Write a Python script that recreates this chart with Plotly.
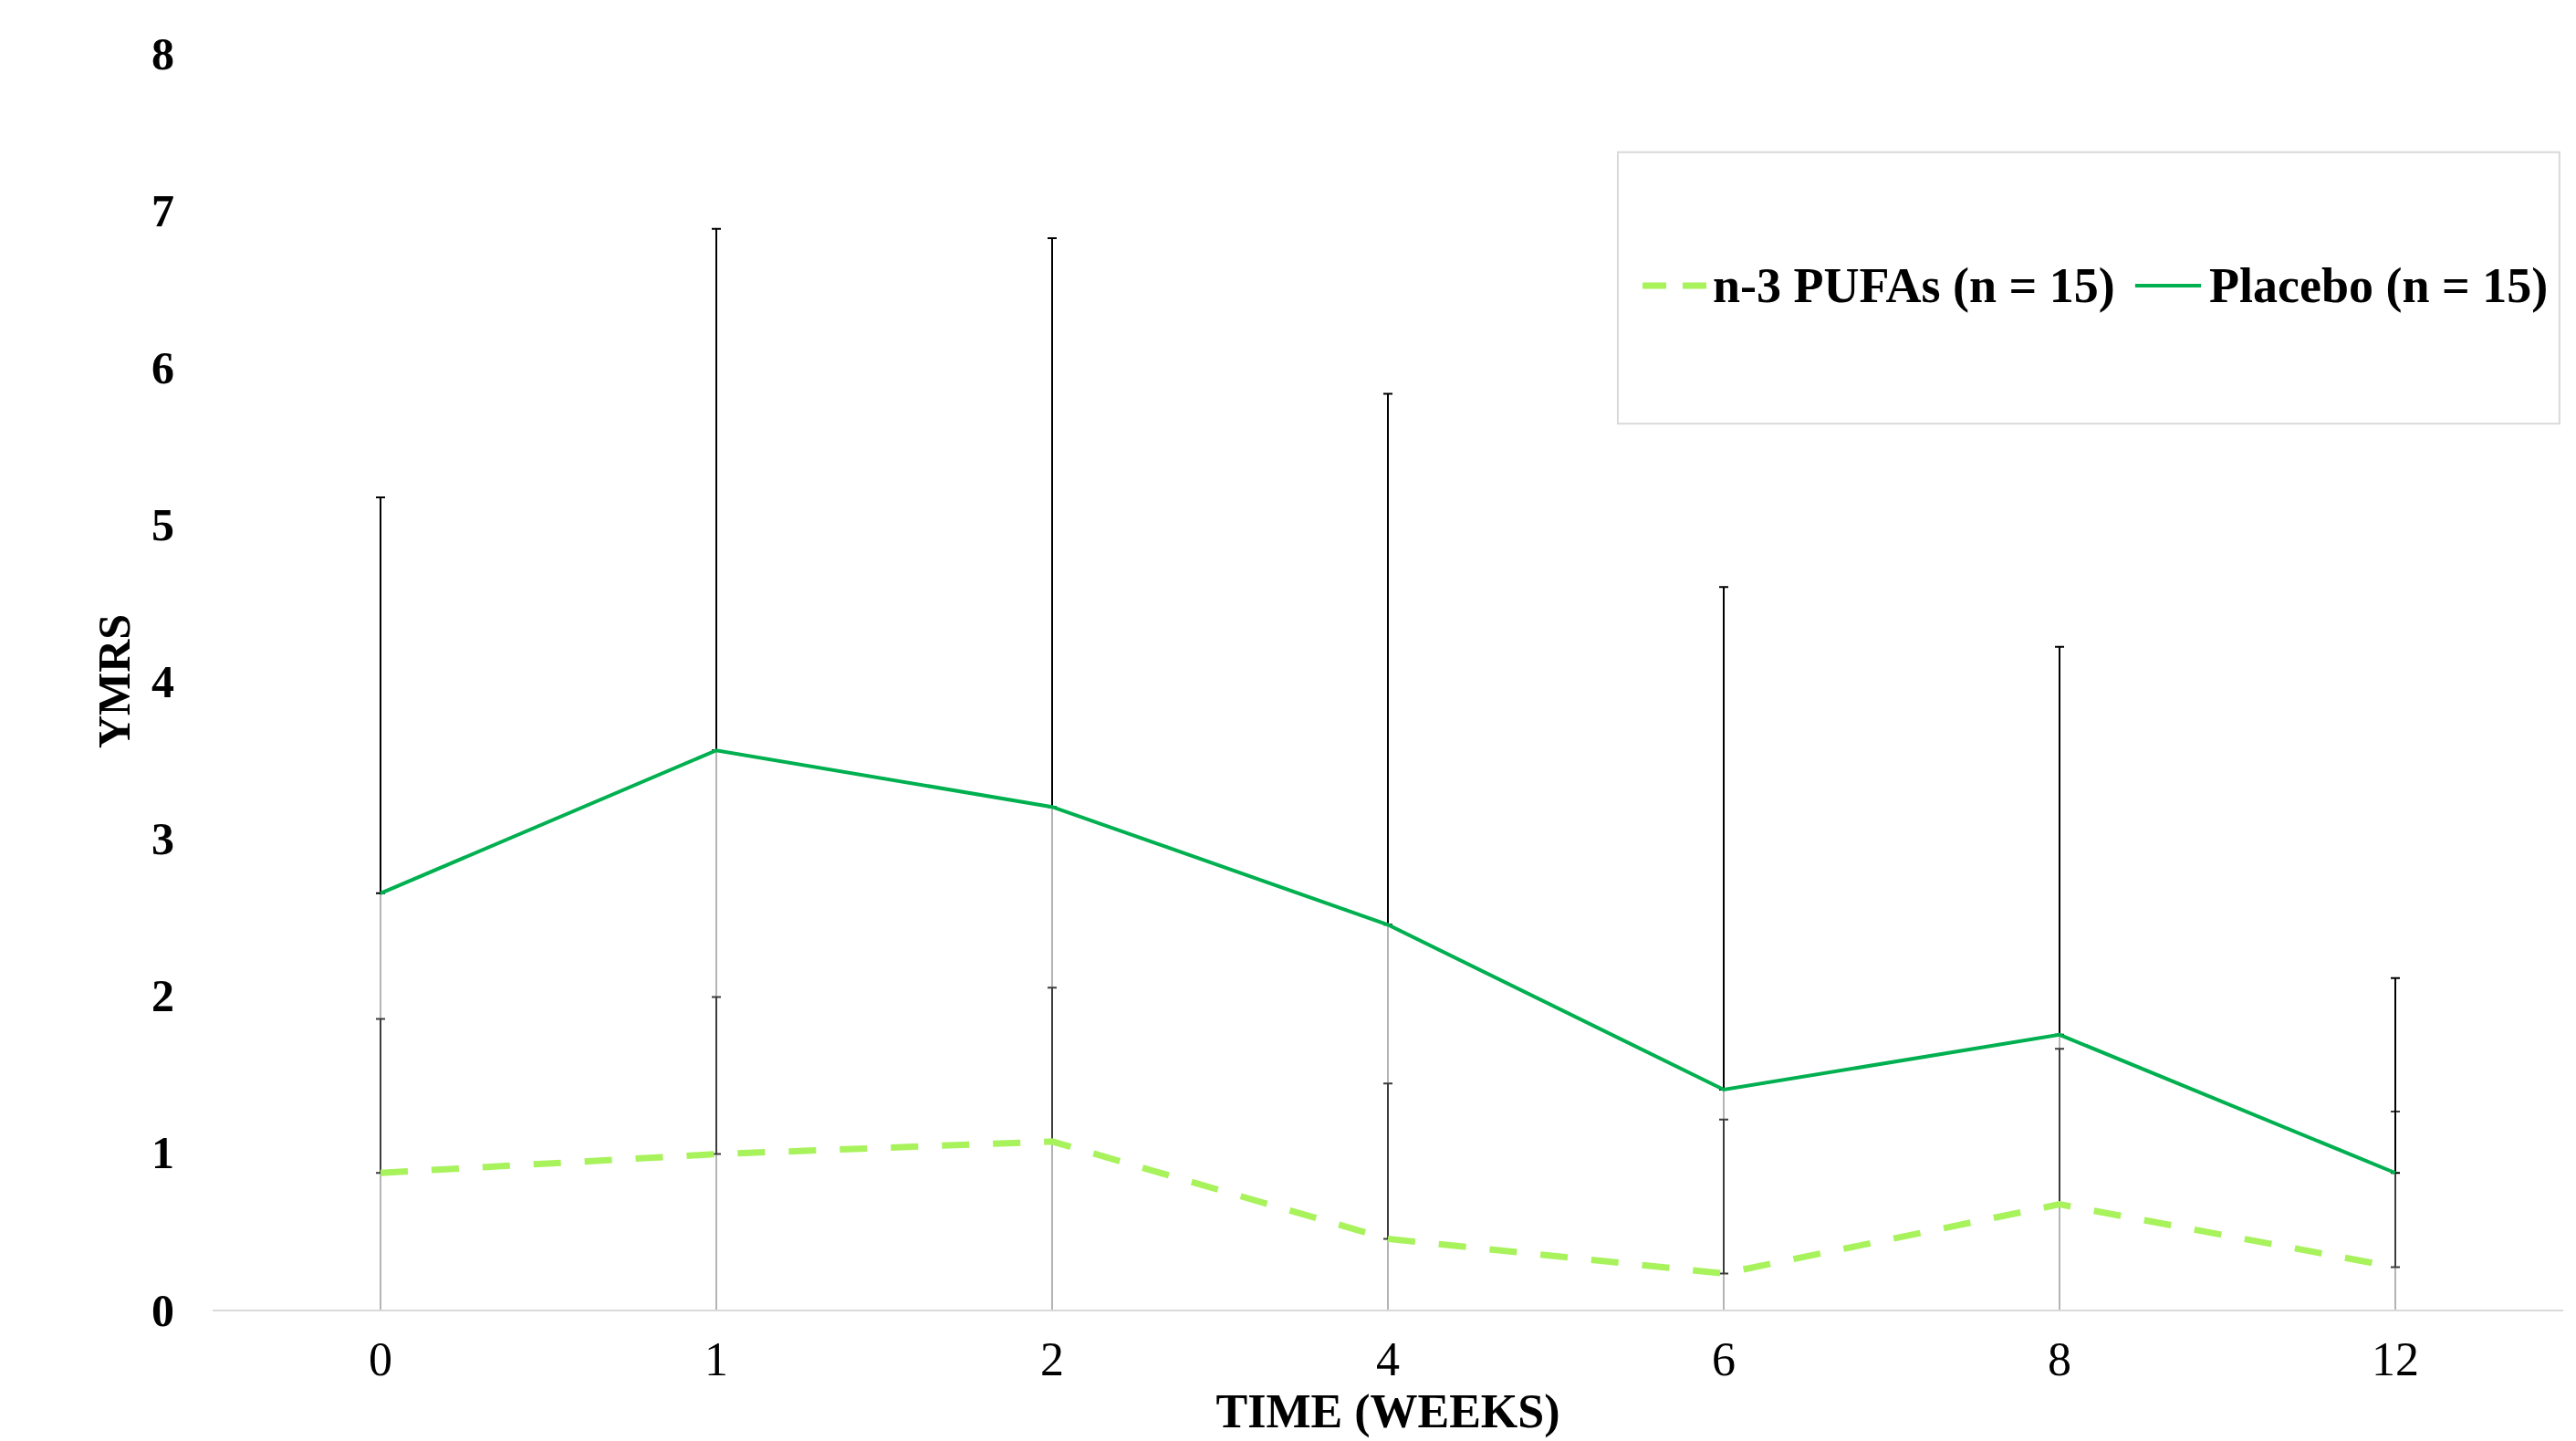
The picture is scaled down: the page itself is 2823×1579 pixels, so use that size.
import plotly.graph_objects as go

weeks = ["0", "1", "2", "4", "6", "8", "12"]
placebo_mean = [2.65, 3.56, 3.20, 2.45, 1.40, 1.75, 0.87]
placebo_sd = [2.52, 3.32, 3.62, 3.38, 3.20, 2.47, 1.24]
pufa_mean = [0.87, 0.99, 1.07, 0.45, 0.23, 0.67, 0.27]
pufa_sd = [0.98, 1.00, 0.98, 0.99, 0.98, 0.99, 0.99]

y_ticks = [0, 1, 2, 3, 4, 5, 6, 7, 8]

PUFA_NAME = "n-3 PUFAs (n = 15)"
PLACEBO_NAME = "Placebo (n = 15)"

FONT = "Liberation Serif"
PLACEBO_C = "#00b050"
PUFA_C = "#a8f25c"
PUFA_DASH = "30px,26px"

fig = go.Figure()

def err_trace(y, plus, minus, color, cap):
    return go.Scatter(
        x=weeks, y=y, mode="markers",
        marker=dict(size=1, color="rgba(0,0,0,0)"),
        error_y=dict(type="data", array=plus, arrayminus=minus, symmetric=False,
                     color=color, thickness=2, width=cap),
        showlegend=False, hoverinfo="skip",
    )

zeros = [0] * len(weeks)
# lower halves of error bars (light grey)
fig.add_trace(err_trace(placebo_mean, zeros, placebo_sd, "#b4b4b4", 0))
fig.add_trace(err_trace(pufa_mean, zeros, pufa_sd, "#b4b4b4", 0))
# upper halves
fig.add_trace(err_trace(pufa_mean, pufa_sd, zeros, "#3c3c3c", 5))
fig.add_trace(err_trace(placebo_mean, placebo_sd, zeros, "#000000", 5))

fig.add_trace(go.Scatter(
    x=weeks, y=pufa_mean, mode="lines", name=PUFA_NAME, showlegend=False,
    line=dict(color=PUFA_C, width=7, dash=PUFA_DASH),
))
fig.add_trace(go.Scatter(
    x=weeks, y=placebo_mean, mode="lines", name=PLACEBO_NAME, showlegend=False,
    line=dict(color=PLACEBO_C, width=4),
))

# legend box
fig.add_shape(type="rect", xref="paper", yref="paper",
              x0=0.5978, x1=0.9984, y0=0.705, y1=0.921,
              line=dict(color="#d9d9d9", width=2), fillcolor="rgba(0,0,0,0)", layer="below")
# legend entries
LEG_Y = 0.8148
fig.add_shape(type="line", xref="paper", yref="paper", x0=0.6083, x1=0.6363, y0=LEG_Y, y1=LEG_Y,
              line=dict(color=PUFA_C, width=7, dash="26px,18px"))
fig.add_shape(type="line", xref="paper", yref="paper", x0=0.8179, x1=0.8459, y0=LEG_Y, y1=LEG_Y,
              line=dict(color=PLACEBO_C, width=4))
for xt, txt in [(0.6374, PUFA_NAME), (0.8486, PLACEBO_NAME)]:
    fig.add_annotation(xref="paper", yref="paper", x=xt, y=LEG_Y, text=txt,
                       xanchor="left", yanchor="middle", showarrow=False,
                       font=dict(family=FONT, size=54, color="black", weight="bold"))

fig.update_layout(
    width=2823, height=1579,
    margin=dict(l=225, r=22, t=50, b=152),
    paper_bgcolor="white", plot_bgcolor="white",
    font=dict(family=FONT, size=52, color="black"),
    showlegend=False,
    xaxis=dict(
        type="category", categoryorder="array", categoryarray=weeks,
        range=[-0.5, 6.5],
        showline=True, linecolor="#d9d9d9", linewidth=2,
        showgrid=False, zeroline=False, ticks="",
        ticklabelstandoff=8,
        tickfont=dict(family=FONT, size=52, color="black"),
        title=dict(text="TIME (WEEKS)", standoff=4,
                   font=dict(family=FONT, size=52, color="black", weight="bold")),
    ),
    yaxis=dict(
        range=[0, 8], tickvals=y_ticks,
        showline=False, showgrid=False, zeroline=False, ticks="",
        ticklabelstandoff=41,
        tickfont=dict(family=FONT, size=50, color="black", weight="bold"),
        title=dict(text="YMRS", standoff=7,
                   font=dict(family=FONT, size=50, color="black", weight="bold")),
    ),
)

fig.write_html("out.html")
